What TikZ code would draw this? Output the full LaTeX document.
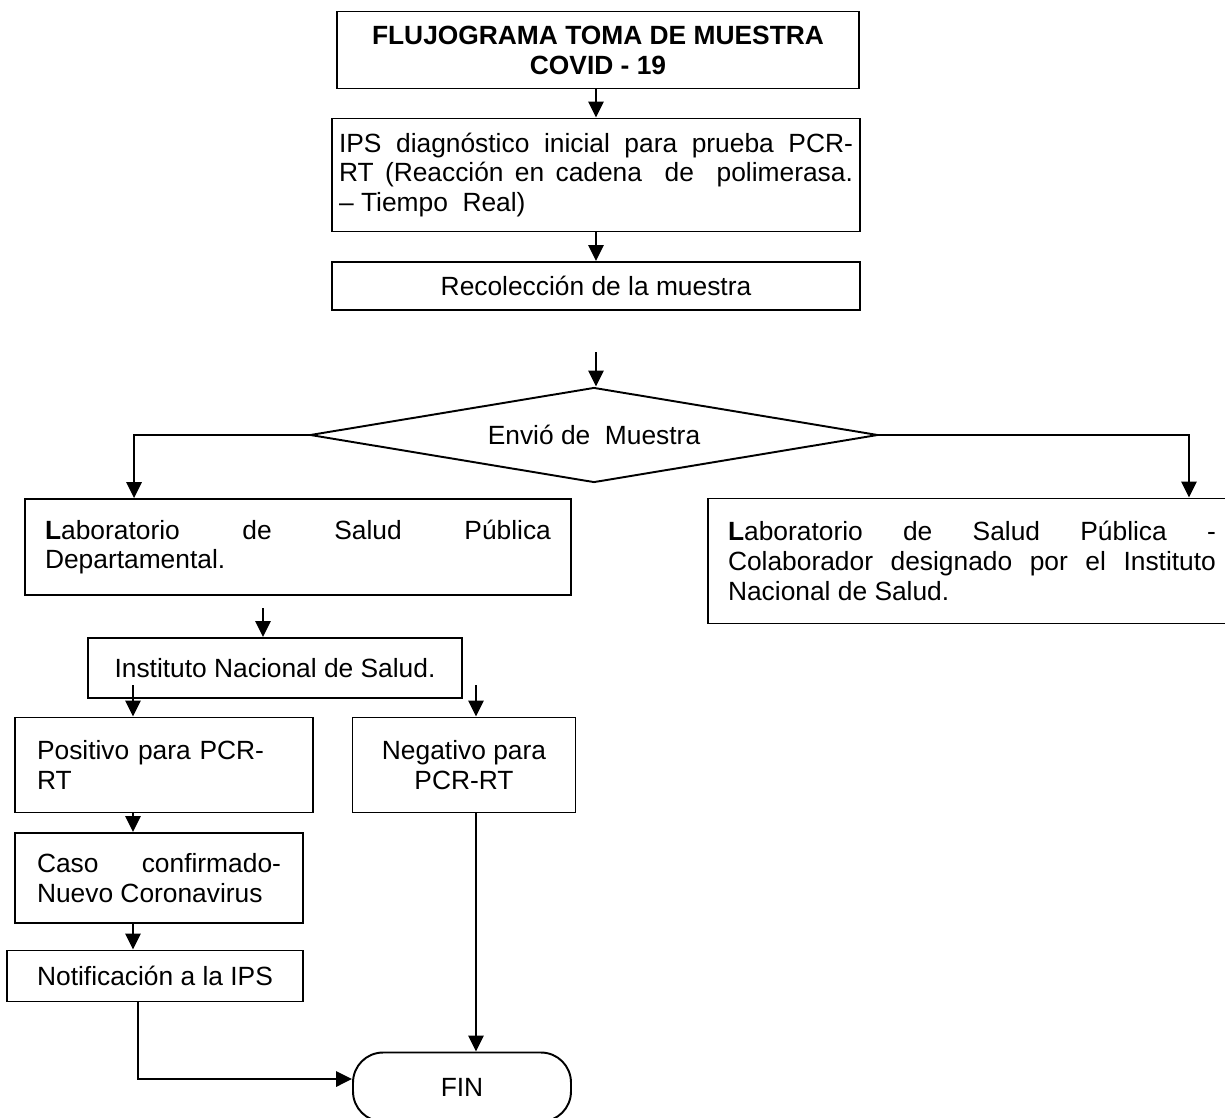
\documentclass[tikz,border=0pt]{standalone}
\usepackage{fontspec}
\setmainfont{Liberation Sans}
\usepackage{tikz}
\usetikzlibrary{shapes.geometric, arrows.meta, positioning}
\tikzset{
	>={Triangle[length=9pt,width=8.5pt]}, % Punta de flecha rellena
	x=0.02cm, y=-0.02cm, % Un pixel de la imagen
	texto/.style={font=\fontsize{15}{17}\selectfont}, % Letra de las cajas
	caja/.style={texto, draw, line width=1.1pt, inner ysep=2pt}, % Procesos
	decision/.style={texto, draw, diamond, aspect=5.9, line width=1.1pt, inner sep=0pt}, % Rombo
	terminal/.style={texto, draw, line width=1.1pt, rounded corners=0.6cm}, % Fin
	flecha/.style={->, line width=1.6pt} % Conectores
}
\tolerance=10000
\hbadness=10000

\begin{document}
\begin{tikzpicture}
	\useasboundingbox[fill=white] (0,0) rectangle (1225,1117);
	\node[caja, align=center, font=\fontsize{15}{17}\selectfont\bfseries, minimum width=10.46cm, minimum height=1.54cm] (titulo) at (598,50) {FLUJOGRAMA TOMA DE MUESTRA\\COVID - 19};
	\node[caja, align=justify, inner xsep=0.14cm, text width=10.28cm, minimum width=10.56cm, minimum height=2.26cm] (ips) at (596,175) {IPS diagnóstico inicial para prueba PCR-\linebreak RT (Reacción en cadena~ de~ polimerasa.\linebreak – Tiempo~ Real)};
	\node[caja, minimum width=10.56cm, minimum height=0.96cm] (recol) at (596,286) {Recolección de la muestra};
	\node[decision, minimum width=11.36cm, minimum height=1.9cm] (envio) at (594,435) {Envió de~ Muestra};
	\node[caja, align=justify, inner xsep=0.4cm, text width=10.12cm, minimum width=10.92cm, minimum height=1.92cm] (labdep) at (298,547) {\textbf{L}aboratorio de Salud Pública\linebreak Departamental.};
	\node[caja, align=justify, inner xsep=0.4cm, text width=9.76cm, minimum width=10.56cm, minimum height=2.5cm] (labcol) at (972,561) {\textbf{L}aboratorio de Salud Pública -\linebreak Colaborador designado por el Instituto\linebreak Nacional de Salud.};
	\node[caja, minimum width=7.48cm, minimum height=1.2cm] (ins) at (275,668) {Instituto Nacional de Salud.};
	\node[caja, align=left, inner xsep=0.44cm, text width=5.08cm, minimum width=5.96cm, minimum height=1.9cm] (pos) at (164,765) {Positivo para PCR-\\RT};
	\node[caja, align=center, minimum width=4.46cm, minimum height=1.9cm] (neg) at (464,765) {Negativo para\\PCR-RT};
	\node[caja, align=justify, inner xsep=0.44cm, text width=4.88cm, minimum width=5.76cm, minimum height=1.8cm] (caso) at (159,878) {Caso confirmado-\linebreak Nuevo Coronavirus};
	\node[caja, minimum width=5.92cm, minimum height=1.02cm] (notif) at (155,976) {Notificación a la IPS};
	\node[terminal, minimum width=4.36cm, minimum height=1.38cm] (fin) at (462,1087) {FIN};

	\coordinate (c1) at (596,352);
	\coordinate (c2) at (263,608);
	\coordinate (c3) at (133,685);
	\coordinate (c4) at (476,685);

	\draw[flecha] (titulo.south -| ips.north) -- (ips.north);
	\draw[flecha] (ips) -- (recol);
	\draw[flecha] (c1) -- (c1 |- envio.north);
	\draw[flecha] (envio.west) -| ([xshift=2.2cm]labdep.north west);
	\draw[flecha] (envio.east) -| ([xshift=9.64cm]labcol.north west);
	\draw[flecha] (c2) -- (c2 |- ins.north);
	\draw[flecha] (c3) -- (c3 |- pos.north);
	\draw[flecha] (c4) -- (c4 |- neg.north);
	\draw[flecha] (c3 |- pos.south) -- (c3 |- caso.north);
	\draw[flecha] (c3 |- caso.south) -- (c3 |- notif.north);
	\draw[flecha] ([xshift=-0.34cm]notif.south) |- ([yshift=0.16cm]fin.west);
	\draw[flecha] (c4 |- neg.south) -- (c4 |- fin.north);
\end{tikzpicture}
\end{document}
